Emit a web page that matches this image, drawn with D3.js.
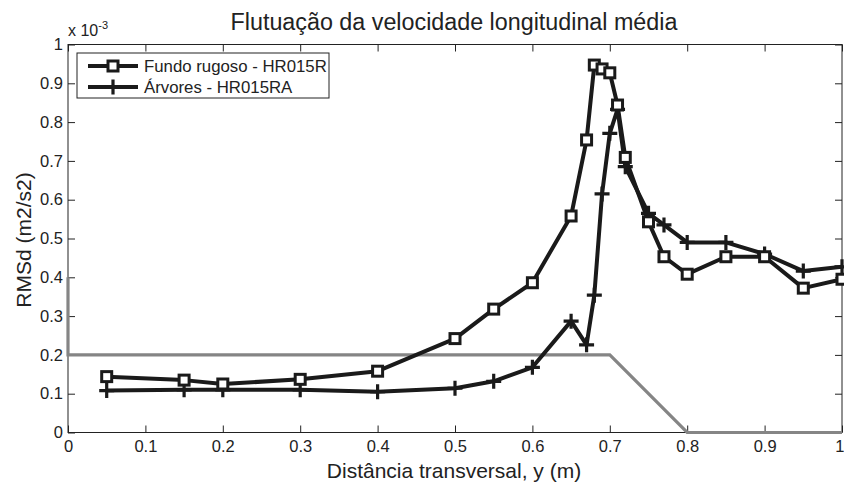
<!DOCTYPE html>
<html><head><meta charset="utf-8">
<script src="https://cdn.jsdelivr.net/npm/d3@7"></script>
<style>body{margin:0;background:#fff;} text{font-family:"Liberation Sans",Arial,sans-serif;fill:#222;}</style>
</head><body><svg id="c" width="844" height="485"></svg>
<script>
const xR = [0.05,0.15,0.2,0.3,0.4,0.5,0.55,0.6,0.65,0.67,0.68,0.69,0.70,0.71,0.72,0.75,0.77,0.8,0.85,0.9,0.95,1.0];
const yR = [0.144,0.135,0.125,0.137,0.158,0.242,0.318,0.386,0.558,0.754,0.947,0.937,0.927,0.844,0.709,0.543,0.453,0.408,0.453,0.453,0.372,0.395];
const xA = [0.05,0.15,0.2,0.3,0.4,0.5,0.55,0.6,0.65,0.67,0.68,0.69,0.70,0.71,0.72,0.75,0.77,0.8,0.85,0.9,0.95,1.0];
const yA = [0.108,0.11,0.11,0.11,0.105,0.114,0.132,0.168,0.287,0.226,0.354,0.615,0.771,0.833,0.685,0.565,0.535,0.49,0.49,0.46,0.416,0.427];
const xG = [0,0,0.7,0.8,1.0];
const yG = [0.4,0.2,0.2,0,0];
const xTicks = [0,0.1,0.2,0.3,0.4,0.5,0.6,0.7,0.8,0.9,1];
const yTicks = [0,0.1,0.2,0.3,0.4,0.5,0.6,0.7,0.8,0.9,1];
const seriesNames = ["Fundo rugoso - HR015R","Árvores - HR015RA"];
const title = "Flutuação da velocidade longitudinal média";
const xLabel = "Distância transversal, y (m)";
const yLabel = "RMSd (m2/s2)";

const svg = d3.select("#c");
const L=68, R=842, T=44.5, B=432.5;
const x = d3.scaleLinear().domain([0,1]).range([L,R]);
const y = d3.scaleLinear().domain([0,1]).range([B,T]);
const line = d3.line().x(d=>x(d[0])).y(d=>y(d[1]));
const FF = "Liberation Sans, Arial, sans-serif";

// axes box
svg.append("rect").attr("x",L).attr("y",T).attr("width",R-L).attr("height",B-T)
  .attr("fill","none").attr("stroke","#222").attr("stroke-width",1);
const tl=7;
const fmt = d=>d3.format("")(+d.toFixed(1));
const ax = svg.append("g").attr("transform",`translate(0,${B})`).call(d3.axisBottom(x).tickValues(xTicks).tickSizeInner(-tl).tickSizeOuter(0).tickPadding(8).tickFormat(fmt));
const at = svg.append("g").attr("transform",`translate(0,${T})`).call(d3.axisTop(x).tickValues(xTicks).tickSizeInner(-tl).tickSizeOuter(0).tickFormat(""));
const ay = svg.append("g").attr("transform",`translate(${L},0)`).call(d3.axisLeft(y).tickValues(yTicks).tickSizeInner(-tl).tickSizeOuter(0).tickPadding(5).tickFormat(fmt));
const ar = svg.append("g").attr("transform",`translate(${R},0)`).call(d3.axisRight(y).tickValues(yTicks).tickSizeInner(-tl).tickSizeOuter(0).tickFormat(""));
[ax,at,ay,ar].forEach(g=>{g.select(".domain").remove();g.selectAll("line").attr("stroke","#222");g.selectAll("text").attr("font-size",16.5).attr("font-family",FF).attr("fill","#222");});
ax.selectAll("text").filter(d=>d===1).attr("text-anchor","end").attr("dx",2);

// grey line (drawn over the axis box, as in the reference)
svg.append("path").datum(xG.map((v,i)=>[v,yG[i]])).attr("d",line)
  .attr("fill","none").attr("stroke","#858585").attr("stroke-width",3.2);

// series
const dR = xR.map((v,i)=>[v,yR[i]]);
const dA = xA.map((v,i)=>[v,yA[i]]);
function plusPath(s){return `M${-s},0H${s}M0,${-s}V${s}`;}
svg.append("path").datum(dR).attr("d",line).attr("fill","none").attr("stroke","#1a1a1a").attr("stroke-width",4).attr("stroke-linejoin","round");
svg.append("path").datum(dA).attr("d",line).attr("fill","none").attr("stroke","#1a1a1a").attr("stroke-width",4).attr("stroke-linejoin","round");
svg.append("g").selectAll("path").data(dA).join("path")
  .attr("transform",d=>`translate(${x(d[0])},${y(d[1])})`).attr("d",plusPath(7.5))
  .attr("stroke","#1a1a1a").attr("stroke-width",3.2).attr("fill","none");
svg.append("g").selectAll("rect").data(dR).join("rect")
  .attr("x",d=>x(d[0])-5).attr("y",d=>y(d[1])-5).attr("width",10).attr("height",10)
  .attr("fill","#fff").attr("stroke","#1a1a1a").attr("stroke-width",3);

// legend
const lg = svg.append("g");
lg.append("rect").attr("x",77).attr("y",53).attr("width",252).attr("height",45).attr("fill","#fff").attr("stroke","#222").attr("stroke-width",1);
[66,87].forEach((ly,i)=>{
  lg.append("line").attr("x1",88).attr("x2",138).attr("y1",ly).attr("y2",ly).attr("stroke","#1a1a1a").attr("stroke-width",4);
  if(i===0) lg.append("rect").attr("x",108).attr("y",ly-5).attr("width",10).attr("height",10).attr("fill","#fff").attr("stroke","#1a1a1a").attr("stroke-width",3);
  else lg.append("path").attr("transform",`translate(113,${ly})`).attr("d",plusPath(7.5)).attr("stroke","#1a1a1a").attr("stroke-width",3.2);
  lg.append("text").attr("x",144).attr("y",ly+6).attr("font-size",16.8).text(seriesNames[i]);
});

// texts
svg.append("text").attr("x",454).attr("y",30).attr("text-anchor","middle").attr("font-size",23.3).text(title);
svg.append("text").attr("x",454).attr("y",478).attr("text-anchor","middle").attr("font-size",21).text(xLabel);
svg.append("text").attr("transform","translate(31,240) rotate(-90)").attr("text-anchor","middle").attr("font-size",21).text(yLabel);
const ex = svg.append("text").attr("x",68).attr("y",36).attr("font-size",16);
ex.append("tspan").text("x 10");
ex.append("tspan").attr("dy",-7).attr("font-size",11).text("-3");
</script></body></html>
